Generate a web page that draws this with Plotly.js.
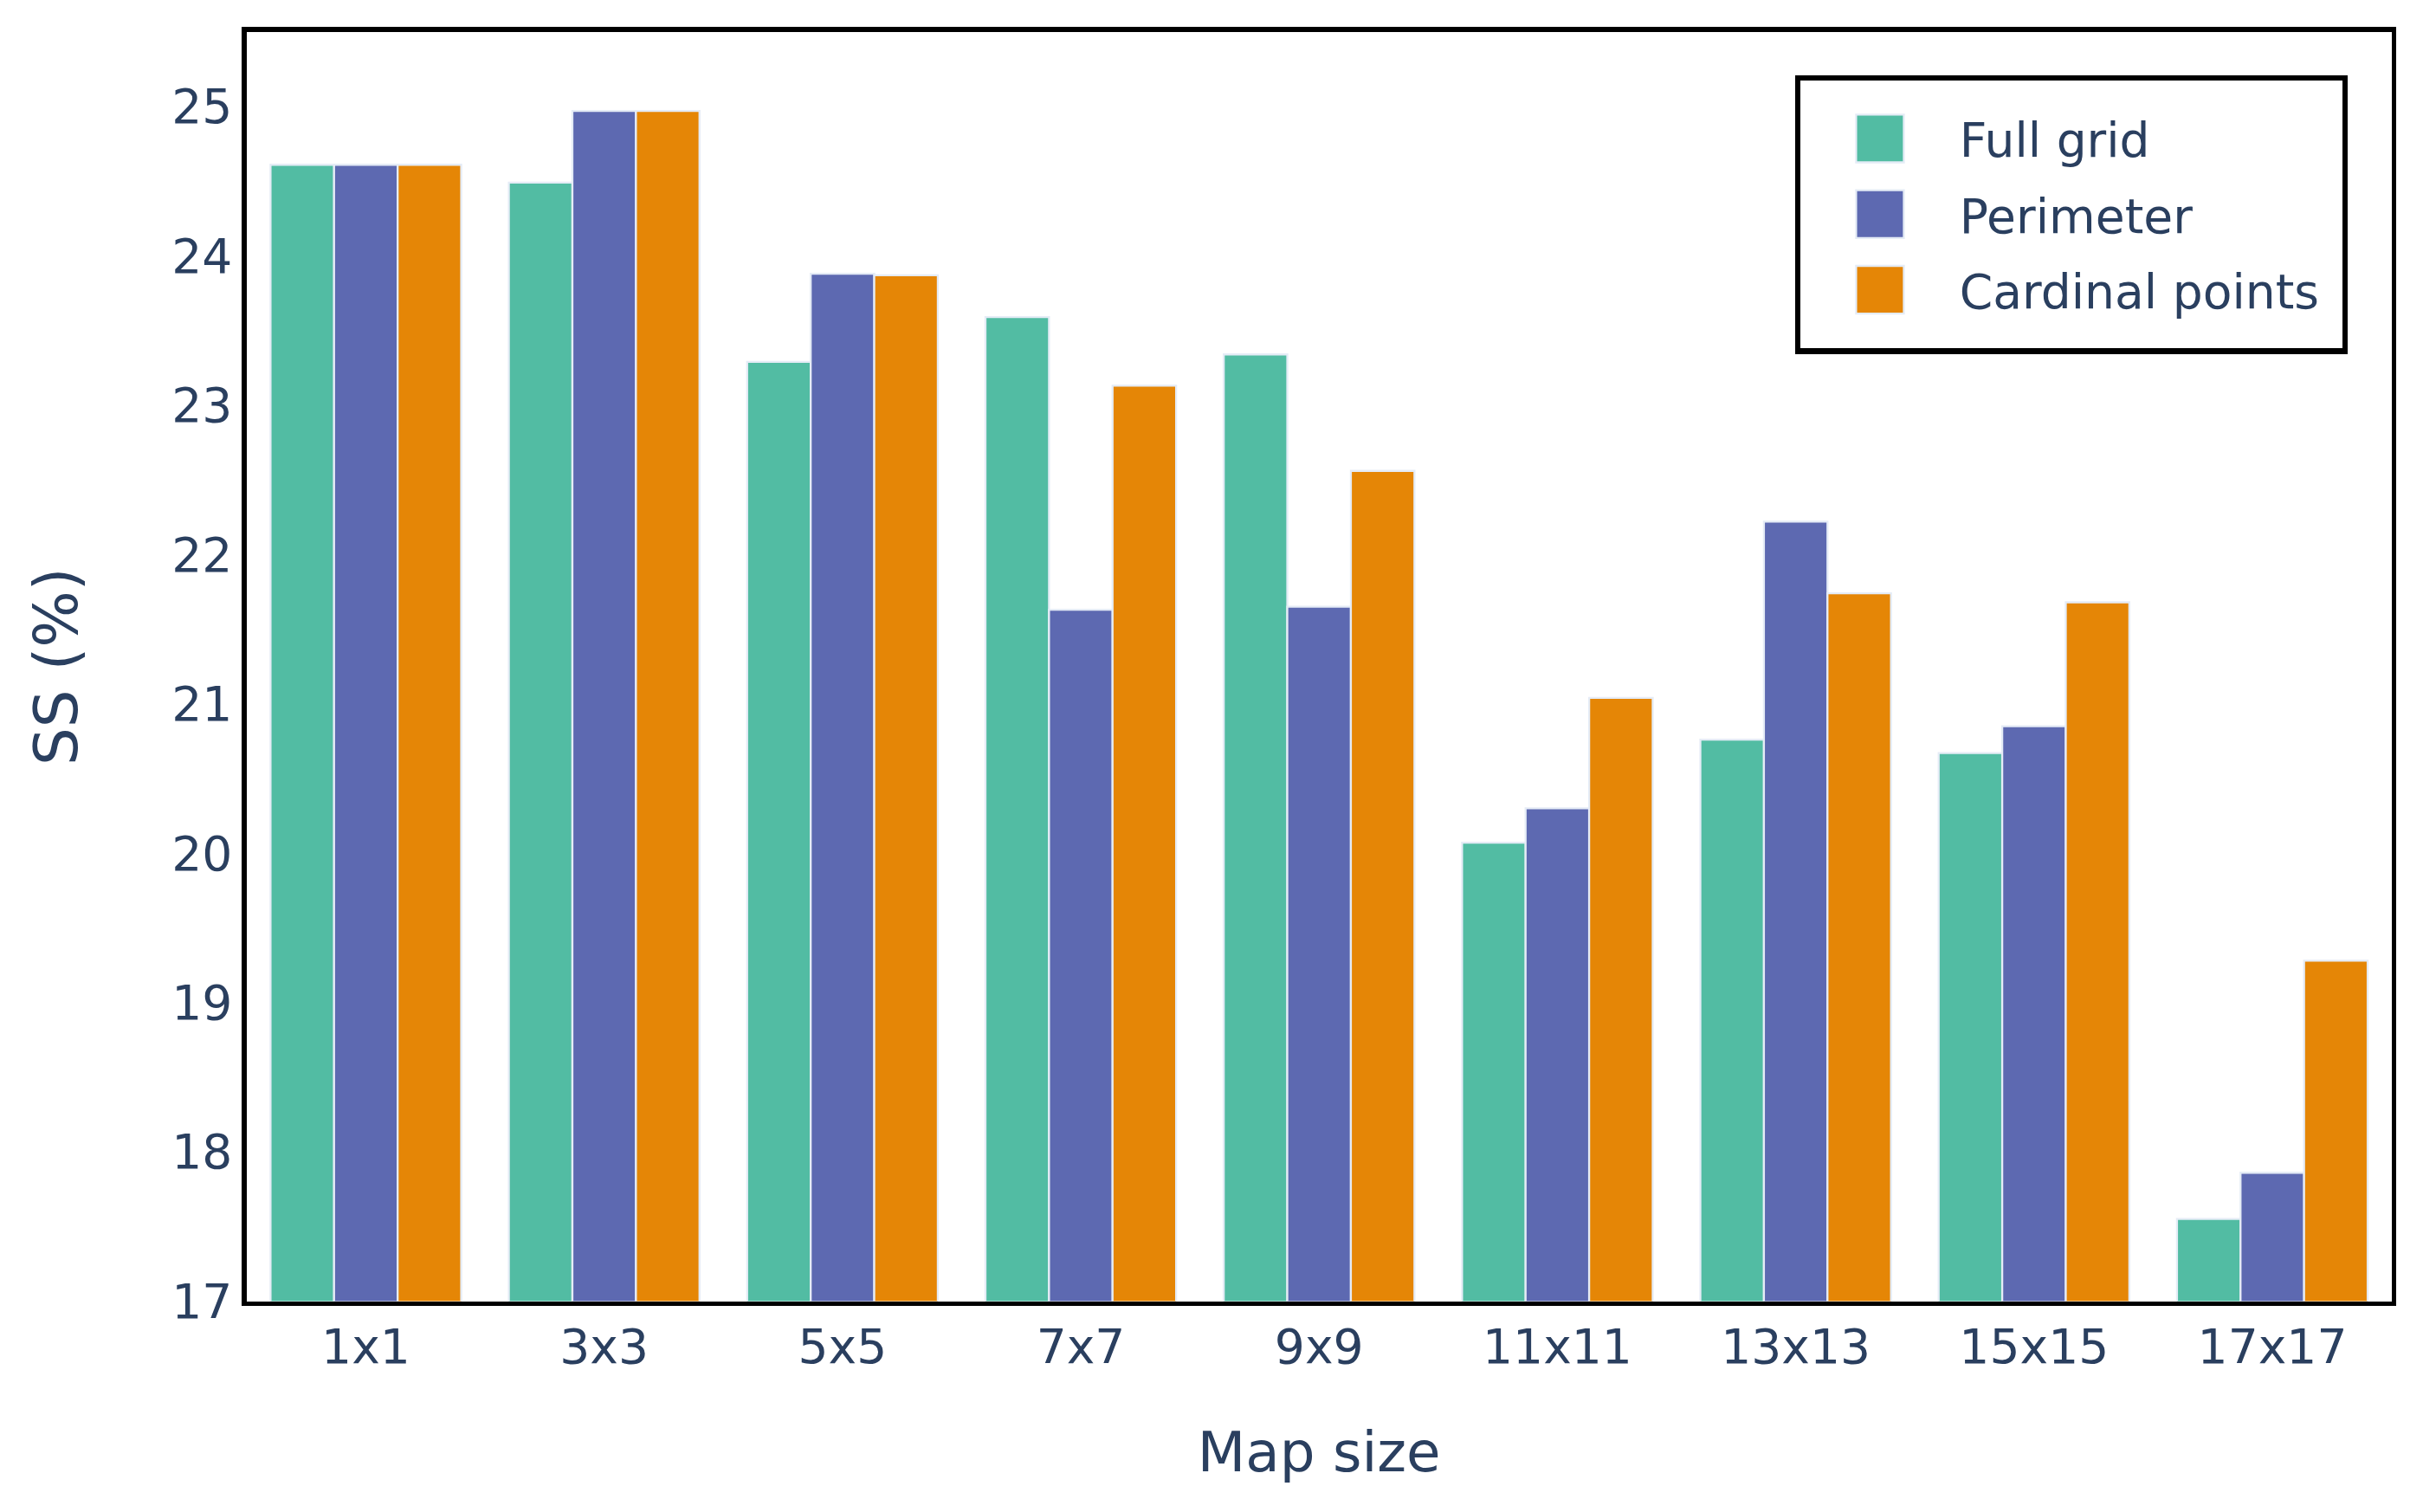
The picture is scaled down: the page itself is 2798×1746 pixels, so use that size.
<!DOCTYPE html>
<html>
<head>
<meta charset="utf-8">
<script src="https://cdn.plot.ly/plotly-3.0.1.min.js"></script>
<style>
html, body { margin: 0; padding: 0; background: #ffffff; overflow: hidden; }
#wrap { width: 2798px; height: 1746px; overflow: hidden; position: relative; }
#chart { width: 609px; height: 380px; transform: scale(4.595); transform-origin: 0 0; }
</style>
</head>
<body>
<div id="wrap"><div id="chart"></div></div>
<script>
const categories = ["1x1", "3x3", "5x5", "7x7", "9x9", "11x11", "13x13", "15x15", "17x17"];
const fullGrid   = [24.61, 24.49, 23.29, 23.59, 23.34, 20.07, 20.76, 20.67, 17.55];
const perimeter  = [24.61, 24.97, 23.88, 21.63, 21.65, 20.30, 22.22, 20.85, 17.86];
const cardinal   = [24.61, 24.97, 23.87, 23.13, 22.56, 21.04, 21.74, 21.68, 19.28];
const seriesNames = ["Full grid", "Perimeter", "Cardinal points"];
const seriesColors = ["rgb(82,188,163)", "rgb(93,105,177)", "rgb(229,134,6)"];
const seriesValues = [fullGrid, perimeter, cardinal];

const traces = seriesValues.map((vals, i) => ({
  type: "bar",
  name: seriesNames[i],
  x: categories,
  y: vals,
  marker: { color: seriesColors[i], line: { color: "#E5ECF6", width: 0.5 } }
}));

const layout = {
  width: 609,
  height: 380,
  margin: { l: 62, r: 8, t: 8, b: 53, pad: 0 },
  font: { family: '"DejaVu Sans", Verdana, sans-serif', size: 12, color: "#2a3f5f" },
  paper_bgcolor: "#ffffff",
  plot_bgcolor: "#ffffff",
  barmode: "group",
  bargap: 0.2,
  bargroupgap: 0,
  showlegend: true,
  xaxis: {
    title: { text: "Map size", font: { size: 14 }, standoff: 15 },
    showline: true, linecolor: "black", linewidth: 1.2, mirror: true,
    showgrid: false, zeroline: false, ticks: ""
  },
  yaxis: {
    title: { text: "SS (%)", font: { size: 15 }, standoff: 19 },
    range: [17, 25.5], dtick: 1,
    showline: true, linecolor: "black", linewidth: 1.2, mirror: true,
    showgrid: false, zeroline: false, ticks: ""
  },
  legend: {
    x: 0.9797, xanchor: "right", y: 0.9658, yanchor: "top",
    bordercolor: "black", borderwidth: 1.4, bgcolor: "#ffffff",
    font: { size: 12 }
  }
};

Plotly.newPlot("chart", traces, layout, { staticPlot: true, displayModeBar: false });
</script>
</body>
</html>
